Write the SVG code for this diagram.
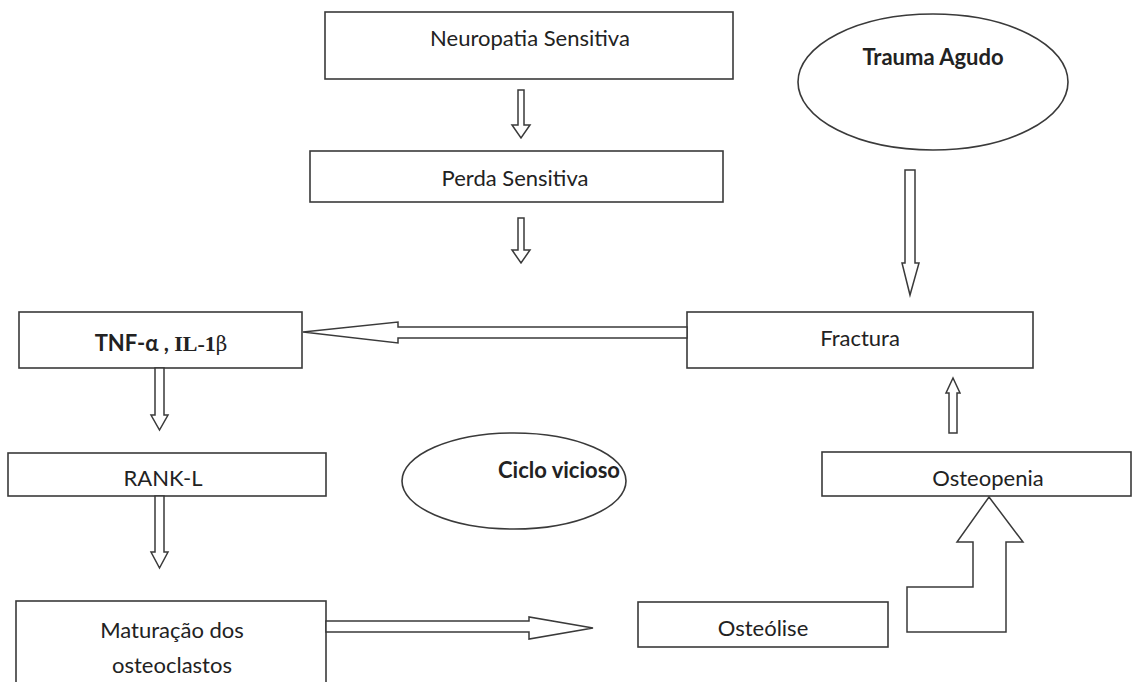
<svg xmlns="http://www.w3.org/2000/svg" width="1144" height="682" viewBox="0 0 1144 682">
<style>
.box{fill:#fff;stroke:#3a3a3a;stroke-width:1.6}
.arr{fill:#fff;stroke:#3a3a3a;stroke-width:1.5;stroke-linejoin:miter}
.t{font-family:Lato,"Noto Sans",sans-serif;font-size:22px;fill:#222;text-anchor:middle}
.b{font-weight:bold}
</style>
<rect width="1144" height="682" fill="#fff"/>
<g id="neuropatia"><rect class="box" x="325" y="12" width="408" height="67"/><text class="t" x="530" y="46">Neuropatia Sensitiva</text></g>
<g id="perda"><rect class="box" x="310" y="151" width="413" height="51"/><text class="t" x="515" y="186">Perda Sensitiva</text></g>
<g id="trauma"><ellipse class="box" cx="933" cy="82" rx="135" ry="68"/><text class="t b" x="933" y="65">Trauma Agudo</text></g>
<g id="tnf"><rect class="box" x="19" y="312" width="283" height="56"/><text class="t" x="161" y="351"><tspan class="b">TNF-α , </tspan><tspan font-family="'Liberation Serif',serif" font-weight="bold">IL-1</tspan><tspan font-family="'DejaVu Serif',serif" font-size="20">β</tspan></text></g>
<g id="fractura"><rect class="box" x="687" y="312" width="346" height="56"/><text class="t" x="860" y="346">Fractura</text></g>
<g id="rankl"><rect class="box" x="8" y="453" width="318" height="43"/><text class="t" x="163" y="486">RANK-L</text></g>
<g id="ciclo"><ellipse class="box" cx="514" cy="481" rx="112" ry="48"/><text class="t b" x="559" y="478">Ciclo vicioso</text></g>
<g id="osteopenia"><rect class="box" x="822" y="452" width="309" height="44"/><text class="t" x="988" y="486">Osteopenia</text></g>
<g id="maturacao"><rect class="box" x="16" y="601" width="310" height="100"/><text class="t" x="172" y="638">Maturação dos</text><text class="t" x="172" y="673">osteoclastos</text></g>
<g id="osteolise"><rect class="box" x="638" y="602" width="250" height="45"/><text class="t" x="763" y="636">Osteólise</text></g>
<g id="connectors">
<path class="arr" d="M518,90 H524 V125 H530 L521,138 L512,125 H518 Z"/>
<path class="arr" d="M518,218 H524 V250 H530 L521,263 L512,250 H518 Z"/>
<path class="arr" d="M905,170 H915 V263 H919 L910,295 L902,263 H905 Z"/>
<path class="arr" d="M687,327 H398 V322 L303,332 L398,343 V338 H687 Z"/>
<path class="arr" d="M155,368 H164 V415 H168 L159.5,430 L151,415 H155 Z"/>
<path class="arr" d="M155,496 H164 V552 H168 L159.5,568 L151,552 H155 Z"/>
<path class="arr" d="M326,621 H529 V617 L593,628 L529,639 V632 H326 Z"/>
<path class="arr" d="M949,433 V393 H946 L953,378 L960,393 H957 V433 Z"/>
<path class="arr" d="M989,497 L1023,542 H1006 V632 H907 V587 H973 V542 H957 Z"/>
</g>
</svg>
